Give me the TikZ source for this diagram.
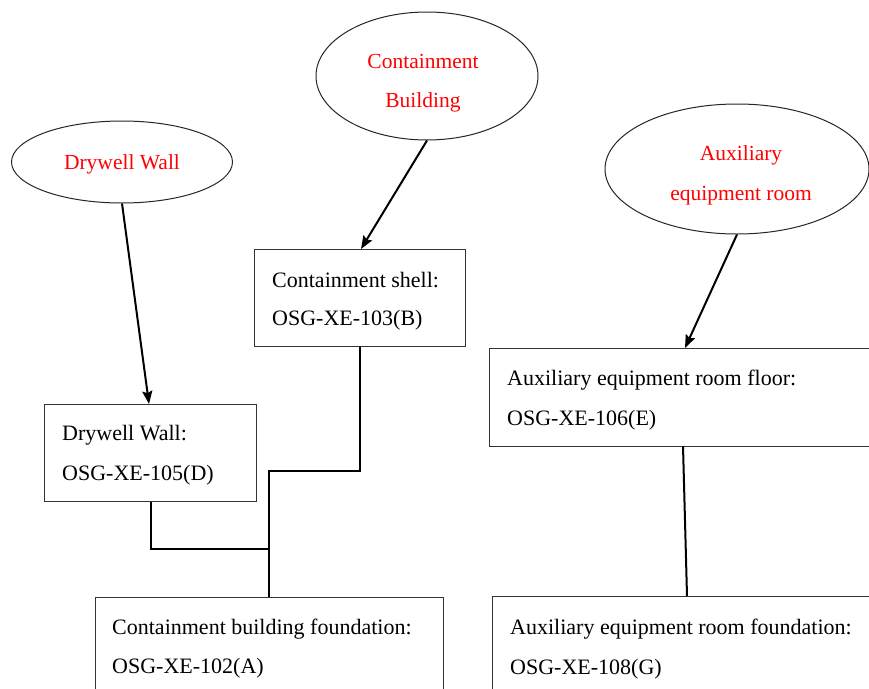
\documentclass[tikz,border=0pt]{standalone}
\usepackage{fontspec}
\setmainfont{Liberation Serif}
\usetikzlibrary{shapes.geometric,arrows.meta}
\begin{document}
\begin{tikzpicture}[x=1pt,y=-1pt,
  box/.style={draw=black!80,line width=1.3pt,rectangle,inner sep=0pt,anchor=north west},
  oval/.style={draw=black!85,line width=1pt,ellipse,inner sep=0pt},
  txt/.style={anchor=base west,inner sep=0pt,font=\fontsize{22}{26}\selectfont},
  rtxt/.style={anchor=base,inner sep=0pt,text=red,font=\fontsize{21.5}{26}\selectfont},
  conn/.style={line width=2pt,black},
  arr/.style={line width=2pt,black,-{Stealth[length=13pt,width=10pt,inset=2pt]}}]
\useasboundingbox (0,0) rectangle (869,688);
\clip (0,0) rectangle (869,688);
\fill[white] (0,0) rectangle (869,688);
% ellipses
\node[oval,minimum width=221pt,minimum height=82pt] (dwe) at (122,162) {};
\node[oval,minimum width=222pt,minimum height=128pt] (cbe) at (427,76) {};
\node[oval,minimum width=264pt,minimum height=130pt] (ae) at (737,169) {};
\node[rtxt] (dwt) at (122,169) {Drywell Wall};
\node[rtxt] (cbt1) at (423,68) {Containment};
\node[rtxt] (cbt2) at (423,107) {Building};
\node[rtxt] (at1) at (741,160) {Auxiliary};
\node[rtxt] (at2) at (741,200) {equipment room};
% boxes
\node[box,minimum width=211pt,minimum height=97pt] (shell) at (254,249) {};
\node[box,minimum width=212pt,minimum height=97pt] (dry) at (44,404) {};
\node[box,minimum width=348pt,minimum height=130pt] (fa) at (95,597) {};
\node[box,minimum width=420pt,minimum height=98pt] (auxf) at (489,348) {};
\node[box,minimum width=420pt,minimum height=130pt] (auxg) at (492,596) {};
% texts
\node[txt] (s1) at (272,287) {Containment shell:};
\node[txt] (s2) at (272,325) {OSG-XE-103(B)};
\node[txt] (d1) at (62,440) {Drywell Wall:};
\node[txt] (d2) at (62,480) {OSG-XE-105(D)};
\node[txt] (a1) at (112,634) {Containment building foundation:};
\node[txt] (a2) at (112,673) {OSG-XE-102(A)};
\node[txt] (e1) at (507,385) {Auxiliary equipment room floor:};
\node[txt] (e2) at (507,425) {OSG-XE-106(E)};
\node[txt] (g1) at (510,634) {Auxiliary equipment room foundation:};
\node[txt] (g2) at (510,674) {OSG-XE-108(G)};
% coordinates
\coordinate (dryin) at (149,404);
\coordinate (shellin) at (361,249);
\coordinate (auxin) at (685,348);
\coordinate (j1) at (269,471);
\coordinate (j2) at (269,549);
\coordinate (eo) at (683,446);
\coordinate (gi) at (687,596);
% arrows
\draw[arr] (dwe.south) -- (dryin);
\draw[arr] (cbe.south) -- (shellin);
\draw[arr] (ae.south) -- (auxin);
% connectors
\draw[conn] (shell.south) |- (j1) -- (j1 |- fa.north);
\draw[conn] (dry.south) |- (j2);
\draw[conn] (eo) -- (gi);
\end{tikzpicture}
\end{document}
